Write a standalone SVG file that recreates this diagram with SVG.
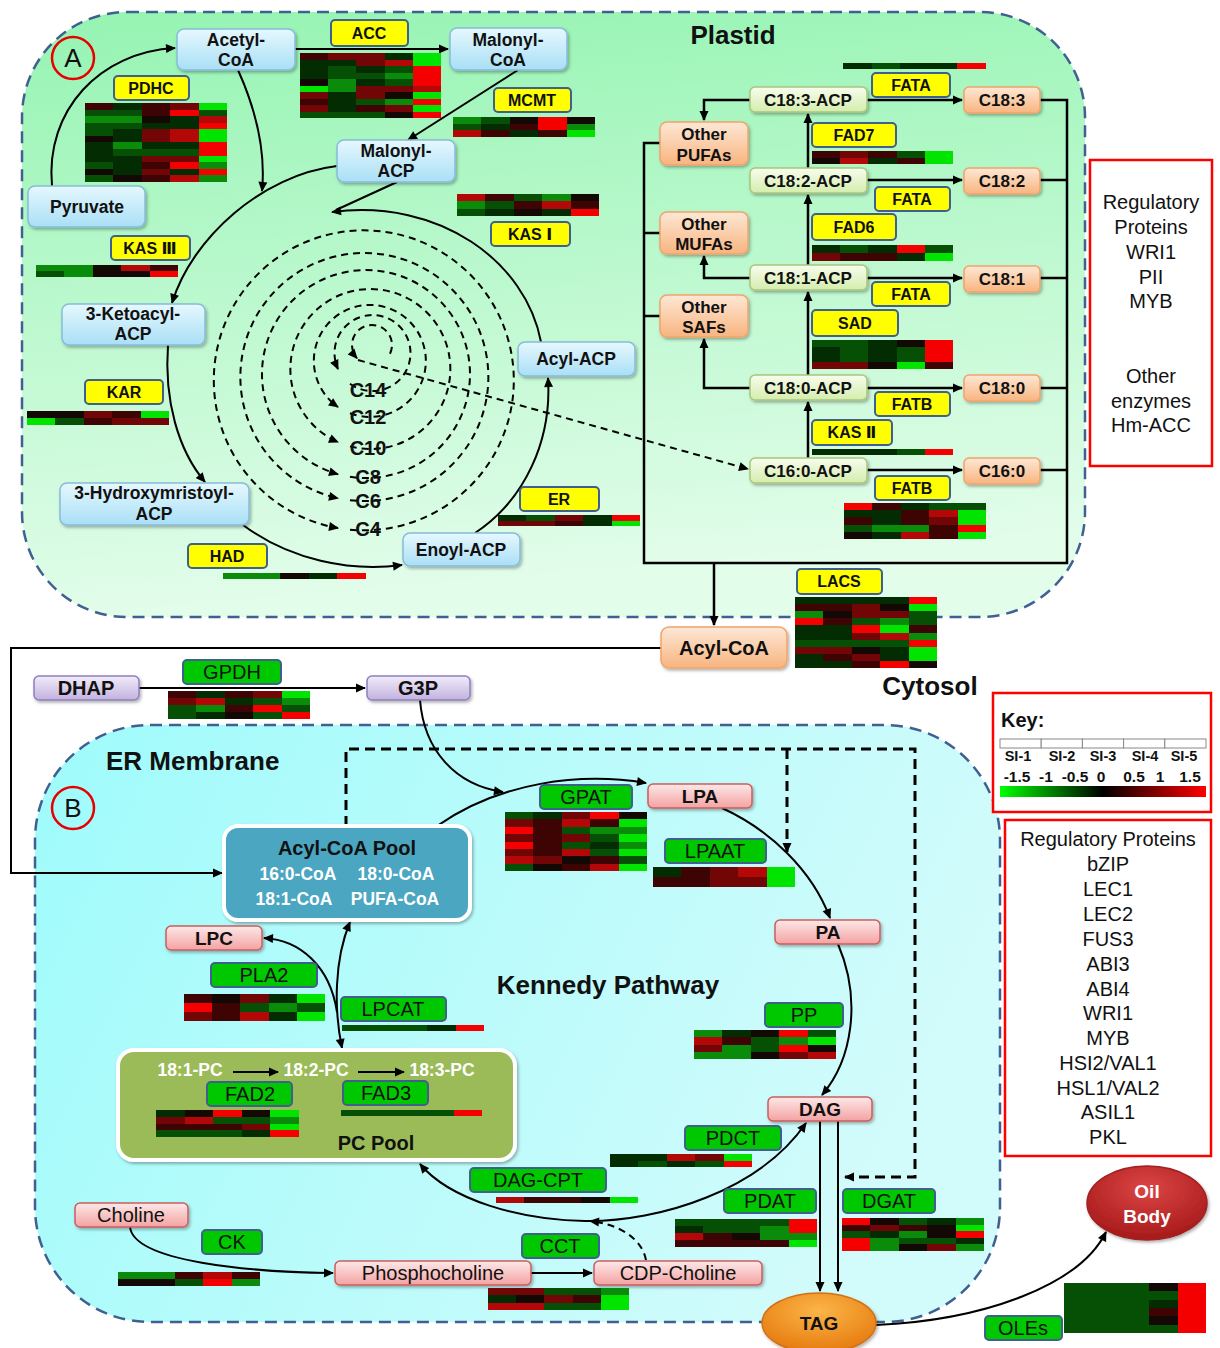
<svg xmlns="http://www.w3.org/2000/svg" width="1220" height="1348" viewBox="0 0 1220 1348">
<defs>
<linearGradient id="gpl" x1="0" y1="0" x2="0.15" y2="1"><stop offset="0" stop-color="#95f4b2"/><stop offset="1" stop-color="#e3fdeb"/></linearGradient>
<linearGradient id="ger" x1="0" y1="0" x2="1" y2="0.3"><stop offset="0" stop-color="#9ffbfb"/><stop offset="1" stop-color="#d2fbfb"/></linearGradient>
<linearGradient id="gb" x1="0" y1="0" x2="0" y2="1"><stop offset="0" stop-color="#e6f8fe"/><stop offset="1" stop-color="#a9dff6"/></linearGradient>
<linearGradient id="ga" x1="0" y1="0" x2="0" y2="1"><stop offset="0" stop-color="#f8fdee"/><stop offset="1" stop-color="#d3edac"/></linearGradient>
<linearGradient id="go" x1="0" y1="0" x2="0" y2="1"><stop offset="0" stop-color="#fde8d6"/><stop offset="1" stop-color="#f8b47f"/></linearGradient>
<linearGradient id="gp" x1="0" y1="0" x2="0" y2="1"><stop offset="0" stop-color="#f1ecf9"/><stop offset="1" stop-color="#c3b2df"/></linearGradient>
<linearGradient id="gk" x1="0" y1="0" x2="0" y2="1"><stop offset="0" stop-color="#fde8e8"/><stop offset="1" stop-color="#f4a2a2"/></linearGradient>
<radialGradient id="gt" cx="0.5" cy="0.3" r="0.7"><stop offset="0" stop-color="#fcb548"/><stop offset="1" stop-color="#e57a0e"/></radialGradient>
<radialGradient id="gob" cx="0.5" cy="0.3" r="0.7"><stop offset="0" stop-color="#dc4444"/><stop offset="1" stop-color="#a61a1a"/></radialGradient>
<linearGradient id="gkey" x1="0" y1="0" x2="1" y2="0"><stop offset="0" stop-color="#00ff00"/><stop offset="0.5" stop-color="#000000"/><stop offset="1" stop-color="#ff0000"/></linearGradient>
<filter id="sh" x="-10%" y="-20%" width="125%" height="150%"><feDropShadow dx="1.5" dy="2" stdDeviation="1.5" flood-color="#000" flood-opacity="0.3"/></filter>
<marker id="ah" viewBox="0 0 10 10" refX="9" refY="5" markerWidth="11" markerHeight="10" markerUnits="userSpaceOnUse" orient="auto-start-reverse"><path d="M0 0.5L10 5L0 9.5z" fill="#000"/></marker>
</defs>
<style>
text{font-family:"Liberation Sans",Arial,"DejaVu Sans",sans-serif;text-anchor:middle;fill:#111}
.b{font-weight:bold}
.nb{fill:url(#gb);stroke:#86bcd9;stroke-width:1.5;filter:url(#sh)}
.na{fill:url(#ga);stroke:#a9c57e;stroke-width:1.5;filter:url(#sh)}
.no{fill:url(#go);stroke:#f1a46a;stroke-width:1.5;filter:url(#sh)}
.np{fill:url(#gp);stroke:#8f7fc0;stroke-width:1.5;filter:url(#sh)}
.nk{fill:url(#gk);stroke:#cc5d5d;stroke-width:1.5;filter:url(#sh)}
.yl{fill:#ffff00;stroke:#3f5f8c;stroke-width:2}
.gl{fill:#00c800;stroke:#3f5f8c;stroke-width:2}
.tn{font-size:17.5px;font-weight:bold}
.ty{font-size:16px;font-weight:bold}
.ta{font-size:17px;font-weight:bold}
.tg{font-size:20px}
.tk{font-size:19px;font-weight:bold}
.ln path{fill:none;stroke:#000;stroke-width:2}
.ln .bx{stroke-width:2.5}
.ln .dl{stroke-dasharray:7 5}
.ln .dl2{stroke-width:3;stroke-dasharray:10 6}
.hm path{stroke:none}
.c1{fill:#00e400}.c2{fill:#0a8c0a}.c3{fill:#055005}.c4{fill:#032c03}.c5{fill:#140804}.c6{fill:#3e0303}.c7{fill:#720505}.c8{fill:#b40707}.c9{fill:#f40000}
.sp{font-size:20px;font-weight:bold}
.big{font-size:26px;font-weight:bold}
.rg{font-size:20px}
</style>
<rect width="1220" height="1348" fill="#fff"/>
<g id="plastid-region"><rect x="22" y="12" width="1063" height="605" rx="105" fill="url(#gpl)" stroke="#3f6090" stroke-width="2.5" stroke-dasharray="12 7"/></g>
<g id="er-region"><rect x="35" y="725" width="965" height="597" rx="115" fill="url(#ger)" stroke="#3f6090" stroke-width="2.5" stroke-dasharray="12 7"/></g>

<g id="connectors" class="ln">
<path d="M52 186C45 110 100 52 175 48" marker-end="url(#ah)"/>
<path d="M295 49H448" marker-end="url(#ah)"/>
<path d="M238 70C256 110 266 150 262 191" marker-end="url(#ah)"/>
<path d="M518 70L408 140" marker-end="url(#ah)"/>
<path d="M337 166C262 175 192 238 172 303" marker-end="url(#ah)"/>
<path d="M397 182L336 210"/>
<path d="M541 342C526 262 440 198 332 212" marker-end="url(#ah)"/>
<path d="M168 345C164 400 178 450 205 482" marker-end="url(#ah)"/>
<path d="M243 525C290 560 350 572 402 565" marker-end="url(#ah)"/>
<path d="M475 533C525 500 552 440 548 378" marker-end="url(#ah)"/>
<path class="dl" d="M350 529.7A150 150 0 1 0 338 528.1" marker-end="url(#ah)"/>
<path class="dl" d="M350 500.2A124 124 0 1 0 338 498.2" marker-end="url(#ah)"/>
<path class="dl" d="M350 476.8A104 104 0 1 0 338 474.2" marker-end="url(#ah)"/>
<path class="dl" d="M350 446.4A80 80 0 1 0 338 442.2" marker-end="url(#ah)"/>
<path class="dl" d="M350 413.3A56 56 0 1 0 338 407" marker-end="url(#ah)"/>
<path class="dl" d="M350 383.7A38 38 0 1 0 338 369" marker-end="url(#ah)"/>
<path class="dl" d="M390 353.7A20 20 0 1 0 357 358.2" marker-end="url(#ah)"/>
<path class="dl" d="M358 360L748 469" marker-end="url(#ah)"/>
<path class="bx" d="M750 100H704V120" marker-end="url(#ah)"/>
<path class="bx" d="M867 100H962" marker-end="url(#ah)"/>
<path class="bx" d="M867 180H962" marker-end="url(#ah)"/>
<path class="bx" d="M867 278H962" marker-end="url(#ah)"/>
<path class="bx" d="M867 388H962" marker-end="url(#ah)"/>
<path class="bx" d="M867 470H962" marker-end="url(#ah)"/>
<path class="bx" d="M750 278H704V256" marker-end="url(#ah)"/>
<path class="bx" d="M750 388H704V339" marker-end="url(#ah)"/>
<path class="bx" d="M808 458V402" marker-end="url(#ah)"/>
<path class="bx" d="M808 375V292" marker-end="url(#ah)"/>
<path class="bx" d="M808 265V195" marker-end="url(#ah)"/>
<path class="bx" d="M808 168V114" marker-end="url(#ah)"/>
<path class="bx" d="M1040 100H1067V563H644V143H660"/>
<path class="bx" d="M1040 180H1067M1040 278H1067M1040 388H1067M1040 470H1067M644 233H660M644 316H660"/>
<path class="bx" d="M714 563V625" marker-end="url(#ah)"/>
<path d="M661 648H11V873H222" marker-end="url(#ah)"/>
<path d="M139 688H365" marker-end="url(#ah)"/>
<path d="M420 700C424 750 455 785 503 792" marker-end="url(#ah)"/>
<path d="M437 826C500 782 580 772 646 783" marker-end="url(#ah)"/>
<path d="M722 808C770 830 812 870 830 918" marker-end="url(#ah)"/>
<path d="M838 944C862 1000 852 1060 822 1095" marker-end="url(#ah)"/>
<path d="M820 1121V1291" marker-end="url(#ah)"/>
<path d="M838 1121V1291" marker-end="url(#ah)"/>
<path class="dl2" d="M346 826V749H915V1177H845" marker-end="url(#ah)"/>
<path class="dl2" d="M787 749V852" marker-end="url(#ah)"/>
<path d="M806 1123C760 1190 660 1222 585 1221C520 1220 450 1200 420 1164" marker-start="url(#ah)" marker-end="url(#ah)"/>
<path class="dl" d="M646 1260C642 1238 618 1224 590 1221" marker-end="url(#ah)"/>
<path d="M130 1227C134 1262 250 1272 333 1273" marker-end="url(#ah)"/>
<path d="M531 1273H592" marker-end="url(#ah)"/>
<path d="M876 1325C985 1320 1080 1285 1106 1232" marker-end="url(#ah)"/>
<path d="M342 1048C334 1010 334 960 350 922" marker-start="url(#ah)" marker-end="url(#ah)"/>
<path d="M337 1012C330 966 300 940 264 938" marker-end="url(#ah)"/>
</g>

<g id="plastid-nodes">
<g id="acetyl-coa"><rect class="nb" x="177" y="29" width="118" height="41" rx="7"/><text class="tn" x="236" y="46">Acetyl-</text><text class="tn" x="236" y="66">CoA</text></g>
<g id="malonyl-coa"><rect class="nb" x="450" y="28" width="117" height="42" rx="7"/><text class="tn" x="508" y="46">Malonyl-</text><text class="tn" x="508" y="66">CoA</text></g>
<g id="pyruvate"><rect class="nb" x="28" y="186" width="117" height="41" rx="7"/><text class="tn" x="87" y="213">Pyruvate</text></g>
<g id="malonyl-acp"><rect class="nb" x="337" y="140" width="118" height="42" rx="7"/><text class="tn" x="396" y="157">Malonyl-</text><text class="tn" x="396" y="177">ACP</text></g>
<g id="ketoacyl-acp"><rect class="nb" x="62" y="304" width="143" height="41" rx="7"/><text class="tn" x="133" y="320">3-Ketoacyl-</text><text class="tn" x="133" y="340">ACP</text></g>
<g id="hydroxy-acp"><rect class="nb" x="60" y="483" width="189" height="42" rx="7"/><text class="tn" x="154" y="499">3-Hydroxymristoyl-</text><text class="tn" x="154" y="520">ACP</text></g>
<g id="acyl-acp"><rect class="nb" x="518" y="342" width="117" height="34" rx="7"/><text class="tn" x="576" y="365">Acyl-ACP</text></g>
<g id="enoyl-acp"><rect class="nb" x="403" y="533" width="117" height="33" rx="7"/><text class="tn" x="461" y="556">Enoyl-ACP</text></g>
<g id="acc"><rect class="yl" x="331" y="20" width="77" height="26" rx="4"/><text class="ty" x="369" y="39">ACC</text></g>
<g id="pdhc"><rect class="yl" x="114" y="76" width="75" height="24" rx="4"/><text class="ty" x="151" y="94">PDHC</text></g>
<g id="mcmt"><rect class="yl" x="494" y="88" width="77" height="24" rx="4"/><text class="ty" x="532" y="106">MCMT</text></g>
<g id="kas3"><rect class="yl" x="111" y="236" width="79" height="24" rx="4"/><text class="ty" x="150" y="254">KAS Ⅲ</text></g>
<g id="kas1"><rect class="yl" x="491" y="222" width="79" height="24" rx="4"/><text class="ty" x="530" y="240">KAS Ⅰ</text></g>
<g id="kar"><rect class="yl" x="85" y="380" width="78" height="24" rx="4"/><text class="ty" x="124" y="398">KAR</text></g>
<g id="had"><rect class="yl" x="188" y="544" width="79" height="24" rx="4"/><text class="ty" x="227" y="562">HAD</text></g>
<g id="er"><rect class="yl" x="520" y="487" width="79" height="24" rx="4"/><text class="ty" x="559" y="505">ER</text></g>
<g id="fata1"><rect class="yl" x="872" y="73" width="78" height="24" rx="4"/><text class="ty" x="911" y="91">FATA</text></g>
<g id="fad7"><rect class="yl" x="812" y="123" width="84" height="24" rx="4"/><text class="ty" x="854" y="141">FAD7</text></g>
<g id="fata2"><rect class="yl" x="875" y="187" width="75" height="24" rx="4"/><text class="ty" x="912" y="205">FATA</text></g>
<g id="fad6"><rect class="yl" x="812" y="214" width="84" height="26" rx="4"/><text class="ty" x="854" y="233">FAD6</text></g>
<g id="fata3"><rect class="yl" x="872" y="282" width="78" height="24" rx="4"/><text class="ty" x="911" y="300">FATA</text></g>
<g id="sad"><rect class="yl" x="812" y="310" width="86" height="26" rx="4"/><text class="ty" x="855" y="329">SAD</text></g>
<g id="fatb1"><rect class="yl" x="875" y="392" width="75" height="24" rx="4"/><text class="ty" x="912" y="410">FATB</text></g>
<g id="kas2"><rect class="yl" x="812" y="420" width="80" height="25" rx="4"/><text class="ty" x="852" y="438">KAS Ⅱ</text></g>
<g id="fatb2"><rect class="yl" x="875" y="476" width="75" height="24" rx="4"/><text class="ty" x="912" y="494">FATB</text></g>
<g id="lacs"><rect class="yl" x="797" y="569" width="85" height="25" rx="4"/><text class="ty" x="839" y="587">LACS</text></g>
<g id="c183-acp"><rect class="na" x="750" y="87" width="117" height="25" rx="5"/><text class="ta" x="808" y="106">C18:3-ACP</text></g>
<g id="c182-acp"><rect class="na" x="750" y="168" width="117" height="25" rx="5"/><text class="ta" x="808" y="187">C18:2-ACP</text></g>
<g id="c181-acp"><rect class="na" x="750" y="265" width="117" height="25" rx="5"/><text class="ta" x="808" y="284">C18:1-ACP</text></g>
<g id="c180-acp"><rect class="na" x="750" y="375" width="117" height="25" rx="5"/><text class="ta" x="808" y="394">C18:0-ACP</text></g>
<g id="c160-acp"><rect class="na" x="750" y="458" width="117" height="25" rx="5"/><text class="ta" x="808" y="477">C16:0-ACP</text></g>
<g id="c183"><rect class="no" x="964" y="87" width="76" height="26" rx="5"/><text class="ta" x="1002" y="106">C18:3</text></g>
<g id="c182"><rect class="no" x="964" y="168" width="76" height="26" rx="5"/><text class="ta" x="1002" y="187">C18:2</text></g>
<g id="c181"><rect class="no" x="964" y="266" width="76" height="26" rx="5"/><text class="ta" x="1002" y="285">C18:1</text></g>
<g id="c180"><rect class="no" x="964" y="375" width="76" height="26" rx="5"/><text class="ta" x="1002" y="394">C18:0</text></g>
<g id="c160"><rect class="no" x="964" y="458" width="76" height="26" rx="5"/><text class="ta" x="1002" y="477">C16:0</text></g>
<g id="other-pufas"><rect class="no" x="660" y="122" width="88" height="43" rx="7"/><text class="ta" x="704" y="140">Other</text><text class="ta" x="704" y="161">PUFAs</text></g>
<g id="other-mufas"><rect class="no" x="660" y="212" width="88" height="42" rx="7"/><text class="ta" x="704" y="230">Other</text><text class="ta" x="704" y="250">MUFAs</text></g>
<g id="other-safs"><rect class="no" x="660" y="295" width="88" height="42" rx="7"/><text class="ta" x="704" y="313">Other</text><text class="ta" x="704" y="333">SAFs</text></g>
<g id="spiral-labels">
<text class="sp" x="368" y="397">C14</text><text class="sp" x="368" y="424">C12</text><text class="sp" x="368" y="455">C10</text><text class="sp" x="368" y="484">C8</text><text class="sp" x="368" y="508">C6</text><text class="sp" x="368" y="536">C4</text>
</g>
</g>

<g id="cytosol-nodes">
<g id="acyl-coa"><rect class="no" x="661" y="627" width="126" height="41" rx="8"/><text class="b" style="font-size:20px" x="724" y="655">Acyl-CoA</text></g>
<g id="dhap"><rect class="np" x="34" y="676" width="105" height="24" rx="5"/><text class="b" style="font-size:20px" x="86" y="695">DHAP</text></g>
<g id="g3p"><rect class="np" x="367" y="676" width="103" height="24" rx="5"/><text class="b" style="font-size:20px" x="418" y="695">G3P</text></g>
<g id="gpdh"><rect class="gl" x="183" y="660" width="98" height="24" rx="4"/><text class="tg" x="232" y="679">GPDH</text></g>
</g>

<g id="er-nodes">
<g id="acyl-coa-pool"><rect x="224" y="826" width="246" height="94" rx="14" fill="#4ba6c1" stroke="#fff" stroke-width="4" filter="url(#sh)"/><text class="b" style="font-size:20px" x="347" y="855">Acyl-CoA Pool</text><text class="b" style="font-size:17.5px;fill:#fff" x="298" y="880">16:0-CoA</text><text class="b" style="font-size:17.5px;fill:#fff" x="396" y="880">18:0-CoA</text><text class="b" style="font-size:17.5px;fill:#fff" x="294" y="905">18:1-CoA</text><text class="b" style="font-size:17.5px;fill:#fff" x="395" y="905">PUFA-CoA</text></g>
<g id="pc-pool"><rect x="118" y="1050" width="397" height="110" rx="16" fill="#9bbb59" stroke="#fff" stroke-width="4" filter="url(#sh)"/><text class="b" style="font-size:17.5px;fill:#fff" x="190" y="1076">18:1-PC</text><text class="b" style="font-size:17.5px;fill:#fff" x="316" y="1076">18:2-PC</text><text class="b" style="font-size:17.5px;fill:#fff" x="442" y="1076">18:3-PC</text><g class="ln"><path d="M233 1072H278" marker-end="url(#ah)"/><path d="M358 1072H404" marker-end="url(#ah)"/></g><text class="b" style="font-size:20px" x="376" y="1150">PC Pool</text></g>
<g id="fad2"><rect class="gl" x="207" y="1082" width="85" height="24" rx="4"/><text class="tg" x="250" y="1101">FAD2</text></g>
<g id="fad3"><rect class="gl" x="343" y="1081" width="85" height="24" rx="4"/><text class="tg" x="386" y="1100">FAD3</text></g>
<g id="lpa"><rect class="nk" x="648" y="784" width="104" height="24" rx="5"/><text class="tk" x="700" y="803">LPA</text></g>
<g id="pa"><rect class="nk" x="775" y="920" width="105" height="24" rx="5"/><text class="tk" x="828" y="939">PA</text></g>
<g id="dag"><rect class="nk" x="768" y="1097" width="104" height="24" rx="5"/><text class="tk" x="820" y="1116">DAG</text></g>
<g id="lpc"><rect class="nk" x="166" y="926" width="96" height="24" rx="5"/><text class="tk" x="214" y="945">LPC</text></g>
<g id="choline"><rect class="nk" x="75" y="1203" width="113" height="24" rx="5"/><text class="tg" x="131" y="1222">Choline</text></g>
<g id="phosphocholine"><rect class="nk" x="335" y="1261" width="196" height="24" rx="5"/><text class="tg" x="433" y="1280">Phosphocholine</text></g>
<g id="cdp-choline"><rect class="nk" x="594" y="1261" width="168" height="24" rx="5"/><text class="tg" x="678" y="1280">CDP-Choline</text></g>
<g id="gpat"><rect class="gl" x="540" y="785" width="92" height="24" rx="4"/><text class="tg" x="586" y="804">GPAT</text></g>
<g id="lpaat"><rect class="gl" x="665" y="839" width="101" height="24" rx="4"/><text class="tg" x="715" y="858">LPAAT</text></g>
<g id="pla2"><rect class="gl" x="211" y="963" width="106" height="24" rx="4"/><text class="tg" x="264" y="982">PLA2</text></g>
<g id="lpcat"><rect class="gl" x="341" y="997" width="105" height="24" rx="4"/><text class="tg" x="393" y="1016">LPCAT</text></g>
<g id="pp"><rect class="gl" x="765" y="1003" width="78" height="24" rx="4"/><text class="tg" x="804" y="1022">PP</text></g>
<g id="pdct"><rect class="gl" x="685" y="1126" width="96" height="24" rx="4"/><text class="tg" x="733" y="1145">PDCT</text></g>
<g id="dag-cpt"><rect class="gl" x="470" y="1168" width="136" height="24" rx="4"/><text class="tg" x="538" y="1187">DAG-CPT</text></g>
<g id="pdat"><rect class="gl" x="724" y="1189" width="92" height="24" rx="4"/><text class="tg" x="770" y="1208">PDAT</text></g>
<g id="dgat"><rect class="gl" x="843" y="1189" width="92" height="24" rx="4"/><text class="tg" x="889" y="1208">DGAT</text></g>
<g id="ck"><rect class="gl" x="202" y="1230" width="60" height="24" rx="4"/><text class="tg" x="232" y="1249">CK</text></g>
<g id="cct"><rect class="gl" x="522" y="1234" width="77" height="24" rx="4"/><text class="tg" x="560" y="1253">CCT</text></g>
<g id="oles"><rect class="gl" x="985" y="1316" width="77" height="24" rx="4"/><text class="tg" x="1023" y="1335">OLEs</text></g>
<g id="tag"><ellipse cx="819" cy="1323" rx="57" ry="30" fill="url(#gt)" stroke="#d27015" stroke-width="1.5" filter="url(#sh)"/><text class="tk" x="819" y="1330">TAG</text></g>
<g id="oil-body"><ellipse cx="1147" cy="1203" rx="60" ry="37" fill="url(#gob)" stroke="#a02020" stroke-width="1.5" filter="url(#sh)"/><text class="tk" style="fill:#fff" x="1147" y="1198">Oil</text><text class="tk" style="fill:#fff" x="1147" y="1223">Body</text></g>
</g>

<g id="heatmaps" class="hm" shape-rendering="crispEdges">
<g transform="translate(300,53) scale(28.2,6.5)">
<path class="c1" d="M4 0h1v2h-1zM0 5h1v1h-1zM4 6h1v1h-1zM4 8h1v1h-1z"/>
<path class="c2" d="M3 3h1v1h-1zM1 4h1v2h-1zM3 7h1v1h-1z"/>
<path class="c3" d="M1 2h1v2h-1zM3 2h1v1h-1zM2 3h1v1h-1zM3 4h1v1h-1zM2 7h1v1h-1zM0 9h3v1h-3z"/>
<path class="c4" d="M3 0h1v1h-1zM0 1h2v1h-2zM0 2h1v2h-1zM2 2h1v1h-1zM2 4h1v1h-1zM1 6h1v3h-1z"/>
<path class="c5" d="M0 4h1v1h-1zM3 6h1v1h-1zM3 9h1v1h-1z"/>
<path class="c6" d="M0 0h1v1h-1zM0 7h1v1h-1zM2 8h1v1h-1z"/>
<path class="c7" d="M1 0h2v1h-2zM2 1h1v1h-1zM2 5h2v1h-2zM0 6h1v1h-1zM2 6h1v1h-1zM0 8h1v1h-1zM3 8h1v1h-1z"/>
<path class="c8" d="M3 1h1v1h-1zM4 5h1v1h-1z"/>
<path class="c9" d="M4 2h1v3h-1zM4 7h1v1h-1zM4 9h1v1h-1z"/>
</g>
<g transform="translate(85,103) scale(28.4,6.583)">
<path class="c1" d="M4 0h1v1h-1zM4 4h1v2h-1zM4 8h1v1h-1z"/>
<path class="c2" d="M0 2h2v1h-2zM1 6h1v1h-1zM4 9h1v1h-1zM4 11h1v1h-1z"/>
<path class="c3" d="M0 1h2v1h-2zM4 1h1v1h-1zM0 3h2v1h-2zM0 4h1v1h-1zM1 7h3v1h-3zM0 9h1v1h-1zM0 11h1v1h-1z"/>
<path class="c4" d="M1 0h1v1h-1zM3 2h1v1h-1zM2 3h2v1h-2zM1 4h1v2h-1zM0 6h1v1h-1zM2 6h2v1h-2zM0 7h1v1h-1zM0 8h2v1h-2zM1 9h1v2h-1zM3 10h1v1h-1z"/>
<path class="c5" d="M2 2h1v1h-1zM0 5h1v1h-1zM0 10h1v1h-1zM1 11h1v1h-1z"/>
<path class="c6" d="M0 0h1v1h-1zM2 0h1v2h-1zM2 9h1v1h-1zM2 11h1v1h-1z"/>
<path class="c7" d="M3 0h1v1h-1zM2 4h1v2h-1zM2 8h2v1h-2zM2 10h1v1h-1z"/>
<path class="c8" d="M4 2h1v1h-1zM3 4h1v2h-1zM3 11h1v1h-1z"/>
<path class="c9" d="M3 1h1v1h-1zM4 3h1v1h-1zM4 6h1v2h-1zM3 9h1v1h-1zM4 10h1v1h-1z"/>
</g>
<g transform="translate(453,117) scale(28.4,6.667)">
<path class="c1" d="M4 2h1v1h-1z"/><path class="c2" d="M0 0h1v1h-1zM4 1h1v1h-1z"/><path class="c3" d="M1 0h1v1h-1zM0 1h1v1h-1z"/><path class="c4" d="M1 1h1v1h-1zM2 2h1v1h-1z"/><path class="c5" d="M2 0h1v1h-1zM4 0h1v1h-1z"/><path class="c6" d="M2 1h1v1h-1zM1 2h1v1h-1zM3 2h1v1h-1z"/><path class="c8" d="M0 2h1v1h-1z"/><path class="c9" d="M3 0h1v2h-1z"/>
</g>
<g transform="translate(457,194) scale(28.4,7.333)">
<path class="c2" d="M3 0h1v1h-1zM0 1h1v1h-1z"/><path class="c3" d="M2 0h1v1h-1zM1 1h1v1h-1zM0 2h1v1h-1z"/><path class="c4" d="M1 2h1v1h-1zM3 2h1v1h-1z"/><path class="c5" d="M4 0h1v1h-1zM2 2h1v1h-1z"/><path class="c6" d="M1 0h1v1h-1zM2 1h1v1h-1zM4 1h1v1h-1z"/><path class="c8" d="M0 0h1v1h-1zM3 1h1v1h-1z"/><path class="c9" d="M4 2h1v1h-1z"/>
</g>
<g transform="translate(36,265) scale(28.4,6)">
<path class="c2" d="M0 0h2v1h-2zM1 1h1v1h-1z"/><path class="c3" d="M0 1h1v1h-1z"/><path class="c5" d="M2 0h1v1h-1zM2 1h2v1h-2z"/><path class="c6" d="M4 0h1v1h-1z"/><path class="c8" d="M3 0h1v1h-1z"/><path class="c9" d="M4 1h1v1h-1z"/>
</g>
<g transform="translate(27,411) scale(28.4,7)">
<path class="c1" d="M4 0h1v1h-1zM0 1h1v1h-1z"/><path class="c3" d="M1 1h1v1h-1z"/><path class="c5" d="M0 0h2v1h-2z"/><path class="c6" d="M3 0h1v1h-1zM2 1h1v1h-1z"/><path class="c7" d="M2 0h1v1h-1zM3 1h2v1h-2z"/>
</g>
<g transform="translate(223,573) scale(28.6,6)">
<path class="c2" d="M0 0h2v1h-2z"/><path class="c5" d="M2 0h1v1h-1z"/><path class="c4" d="M3 0h1v1h-1z"/><path class="c9" d="M4 0h1v1h-1z"/>
</g>
<g transform="translate(498,515) scale(28.4,5.5)">
<path class="c1" d="M4 1h1v1h-1z"/><path class="c3" d="M1 0h1v1h-1z"/><path class="c4" d="M0 0h1v1h-1zM3 0h1v2h-1z"/><path class="c6" d="M2 1h1v1h-1z"/><path class="c7" d="M2 0h1v1h-1zM0 1h2v1h-2z"/><path class="c9" d="M4 0h1v1h-1z"/>
</g>
<g transform="translate(843,63) scale(28.6,6)">
<path class="c4" d="M0 0h1v1h-1zM2 0h2v1h-2z"/><path class="c3" d="M1 0h1v1h-1z"/><path class="c9" d="M4 0h1v1h-1z"/>
</g>
<g transform="translate(812,151) scale(28.2,6.5)">
<path class="c1" d="M4 0h1v2h-1z"/><path class="c3" d="M3 0h1v1h-1z"/><path class="c4" d="M2 1h1v1h-1z"/><path class="c5" d="M0 1h1v1h-1z"/><path class="c6" d="M0 0h1v1h-1zM2 0h1v1h-1zM3 1h1v1h-1z"/><path class="c7" d="M1 0h1v1h-1z"/><path class="c8" d="M1 1h1v1h-1z"/>
</g>
<g transform="translate(812,245) scale(28.2,8)">
<path class="c1" d="M4 1h1v1h-1z"/><path class="c3" d="M1 0h1v1h-1zM4 0h1v1h-1z"/><path class="c4" d="M0 0h1v1h-1zM2 0h1v1h-1zM3 1h1v1h-1z"/><path class="c6" d="M1 1h2v1h-2z"/><path class="c7" d="M0 1h1v1h-1z"/><path class="c9" d="M3 0h1v1h-1z"/>
</g>
<g transform="translate(812,340) scale(28.2,7.25)">
<path class="c1" d="M3 3h1v1h-1z"/><path class="c3" d="M0 0h2v1h-2zM1 1h1v2h-1zM3 1h1v2h-1z"/><path class="c4" d="M2 0h1v3h-1zM0 1h1v2h-1z"/><path class="c5" d="M3 0h1v1h-1zM2 3h1v1h-1z"/><path class="c6" d="M4 3h1v1h-1z"/><path class="c7" d="M0 3h2v1h-2z"/><path class="c9" d="M4 0h1v3h-1z"/>
</g>
<g transform="translate(812,449) scale(28.2,6)">
<path class="c4" d="M0 0h3v1h-3z"/><path class="c3" d="M3 0h1v1h-1z"/><path class="c9" d="M4 0h1v1h-1z"/>
</g>
<g transform="translate(844,503) scale(28.4,7.2)">
<path class="c1" d="M4 1h1v2h-1zM4 4h1v1h-1z"/><path class="c2" d="M1 3h2v1h-2z"/><path class="c3" d="M3 0h2v1h-2zM0 3h1v1h-1z"/><path class="c4" d="M2 0h1v1h-1zM0 1h2v1h-2zM1 2h1v1h-1zM1 4h1v1h-1z"/><path class="c5" d="M0 4h1v1h-1z"/><path class="c6" d="M1 0h1v1h-1zM2 1h1v1h-1zM0 2h1v1h-1zM2 2h1v1h-1zM3 3h1v2h-1z"/><path class="c7" d="M3 2h1v1h-1z"/><path class="c8" d="M3 1h1v1h-1zM2 4h1v1h-1z"/><path class="c9" d="M0 0h1v1h-1zM4 3h1v1h-1z"/>
</g>
<g transform="translate(795,597) scale(28.4,7.1)">
<path class="c1" d="M4 1h1v1h-1zM3 4h1v1h-1zM4 7h1v2h-1z"/>
<path class="c2" d="M0 2h1v1h-1zM3 3h1v1h-1zM4 5h1v1h-1z"/>
<path class="c3" d="M4 2h1v1h-1zM2 3h1v1h-1zM4 3h1v1h-1zM0 6h4v1h-4z"/>
<path class="c4" d="M0 0h4v1h-4zM0 4h2v2h-2zM3 7h1v2h-1zM0 8h1v2h-1zM1 9h1v1h-1z"/>
<path class="c5" d="M3 1h1v1h-1zM1 2h1v1h-1zM2 7h1v1h-1zM4 9h1v1h-1z"/>
<path class="c6" d="M0 1h2v1h-2zM1 3h1v1h-1zM4 4h1v1h-1zM1 8h1v1h-1zM2 9h1v1h-1z"/>
<path class="c7" d="M2 1h1v1h-1zM2 2h2v1h-2zM2 5h1v1h-1zM0 7h2v1h-2zM2 8h1v1h-1z"/>
<path class="c8" d="M3 5h1v1h-1z"/>
<path class="c9" d="M4 0h1v1h-1zM0 3h1v1h-1zM2 4h1v1h-1zM4 6h1v1h-1zM3 9h1v1h-1z"/>
</g>
<g transform="translate(168,691) scale(28.4,7)">
<path class="c1" d="M4 0h1v1h-1z"/><path class="c2" d="M4 1h1v1h-1zM1 2h1v1h-1z"/><path class="c3" d="M3 1h1v1h-1zM0 2h1v2h-1zM4 2h1v1h-1zM3 3h1v1h-1z"/><path class="c4" d="M1 0h1v1h-1zM2 1h1v1h-1zM1 3h1v1h-1z"/><path class="c5" d="M2 3h1v1h-1z"/><path class="c6" d="M0 0h1v1h-1zM2 0h1v1h-1zM2 2h1v1h-1z"/><path class="c7" d="M3 0h1v1h-1zM0 1h1v1h-1z"/><path class="c8" d="M1 1h1v1h-1z"/><path class="c9" d="M3 2h1v1h-1zM4 3h1v1h-1z"/>
</g>
<g transform="translate(505,812) scale(28.4,7.375)">
<path class="c1" d="M4 1h1v1h-1zM4 3h1v1h-1zM4 5h1v1h-1zM4 7h1v1h-1z"/>
<path class="c2" d="M3 2h2v1h-2zM4 4h1v1h-1z"/>
<path class="c3" d="M0 0h1v1h-1zM2 2h1v1h-1zM3 3h1v1h-1zM2 4h1v1h-1zM3 5h1v1h-1zM4 6h1v1h-1zM0 7h1v1h-1z"/>
<path class="c4" d="M1 0h1v1h-1zM3 4h1v1h-1z"/>
<path class="c5" d="M4 0h1v1h-1zM2 6h1v1h-1zM1 7h1v1h-1z"/>
<path class="c6" d="M1 1h1v5h-1zM3 1h1v1h-1zM3 6h1v1h-1zM2 7h1v1h-1z"/>
<path class="c7" d="M2 0h1v1h-1zM0 1h1v1h-1zM0 3h1v1h-1zM2 3h1v1h-1zM0 5h1v1h-1zM1 6h1v1h-1z"/>
<path class="c8" d="M2 1h1v1h-1zM2 5h1v1h-1zM0 6h1v1h-1zM3 7h1v1h-1z"/>
<path class="c9" d="M3 0h1v1h-1zM0 2h1v1h-1zM0 4h1v1h-1z"/>
</g>
<g transform="translate(653,867) scale(28.4,10)">
<path class="c1" d="M4 0h1v2h-1z"/><path class="c4" d="M0 0h1v1h-1z"/><path class="c6" d="M1 0h1v1h-1zM0 1h2v1h-2z"/><path class="c7" d="M2 0h1v1h-1zM2 1h2v1h-2z"/><path class="c8" d="M3 0h1v1h-1z"/>
</g>
<g transform="translate(184,994) scale(28.2,9)">
<path class="c1" d="M4 0h1v1h-1zM4 2h1v1h-1z"/><path class="c2" d="M3 1h1v1h-1z"/><path class="c3" d="M2 1h1v1h-1zM4 1h1v1h-1z"/><path class="c4" d="M3 0h1v1h-1zM3 2h1v1h-1z"/><path class="c5" d="M1 0h1v1h-1z"/><path class="c6" d="M0 0h1v1h-1zM1 1h1v2h-1z"/><path class="c7" d="M2 0h1v1h-1zM0 2h1v1h-1z"/><path class="c8" d="M2 2h1v1h-1z"/><path class="c9" d="M0 1h1v1h-1z"/>
</g>
<g transform="translate(342,1025) scale(28.4,6)">
<path class="c3" d="M0 0h3v1h-3z"/><path class="c4" d="M3 0h1v1h-1z"/><path class="c9" d="M4 0h1v1h-1z"/>
</g>
<g transform="translate(694,1030) scale(28.4,7.25)">
<path class="c1" d="M4 1h1v1h-1z"/><path class="c2" d="M0 0h1v1h-1zM3 1h1v1h-1zM1 2h1v1h-1zM0 3h2v1h-2z"/><path class="c3" d="M4 0h1v1h-1zM2 1h1v2h-1z"/><path class="c4" d="M1 0h1v1h-1z"/><path class="c5" d="M2 0h1v1h-1zM4 2h1v1h-1zM2 3h1v1h-1z"/><path class="c6" d="M1 1h1v1h-1z"/><path class="c7" d="M0 2h1v1h-1zM3 3h1v1h-1z"/><path class="c8" d="M0 1h1v1h-1zM4 3h1v1h-1z"/><path class="c9" d="M3 0h1v1h-1zM3 2h1v1h-1z"/>
</g>
<g transform="translate(156,1110) scale(28.6,6.75)">
<path class="c1" d="M4 0h1v1h-1zM4 2h1v1h-1z"/><path class="c2" d="M4 1h1v1h-1z"/><path class="c3" d="M2 1h2v1h-2zM0 3h3v1h-3z"/><path class="c4" d="M0 0h1v1h-1zM3 3h1v1h-1z"/><path class="c5" d="M1 0h1v1h-1zM3 0h1v1h-1z"/><path class="c6" d="M0 2h3v1h-3z"/><path class="c7" d="M0 1h1v1h-1zM3 2h1v1h-1z"/><path class="c8" d="M1 1h1v1h-1z"/><path class="c9" d="M2 0h1v1h-1zM4 3h1v1h-1z"/>
</g>
<g transform="translate(341,1110) scale(28.2,6)">
<path class="c3" d="M0 0h4v1h-4z"/><path class="c9" d="M4 0h1v1h-1z"/>
</g>
<g transform="translate(610,1154) scale(28.4,6.5)">
<path class="c1" d="M4 0h1v1h-1z"/><path class="c3" d="M1 1h1v1h-1zM3 1h1v1h-1z"/><path class="c4" d="M0 0h2v1h-2zM0 1h1v1h-1zM2 1h1v1h-1z"/><path class="c7" d="M3 0h1v1h-1z"/><path class="c8" d="M2 0h1v1h-1z"/><path class="c9" d="M4 1h1v1h-1z"/>
</g>
<g transform="translate(496,1197) scale(28.4,6)">
<path class="c8" d="M0 0h1v1h-1z"/><path class="c6" d="M1 0h2v1h-2z"/><path class="c5" d="M3 0h1v1h-1z"/><path class="c1" d="M4 0h1v1h-1z"/>
</g>
<g transform="translate(675,1219) scale(28.4,7)">
<path class="c1" d="M4 3h1v1h-1z"/><path class="c2" d="M3 1h1v2h-1zM4 2h1v1h-1z"/><path class="c3" d="M0 0h4v1h-4zM1 1h2v1h-2z"/><path class="c4" d="M0 1h1v1h-1z"/><path class="c5" d="M2 2h1v1h-1z"/><path class="c6" d="M1 2h1v1h-1zM0 3h4v1h-4z"/><path class="c8" d="M0 2h1v1h-1z"/><path class="c9" d="M4 0h1v2h-1z"/>
</g>
<g transform="translate(842,1218) scale(28.4,6.6)">
<path class="c1" d="M4 1h1v1h-1z"/><path class="c2" d="M4 0h1v1h-1zM2 2h1v1h-1zM1 3h1v2h-1zM4 4h1v1h-1z"/><path class="c3" d="M2 0h1v1h-1zM0 2h1v1h-1zM2 3h2v1h-2z"/><path class="c4" d="M3 0h1v1h-1zM1 2h1v1h-1zM4 3h1v1h-1z"/><path class="c5" d="M1 0h1v1h-1zM3 1h1v2h-1zM2 4h1v1h-1z"/><path class="c6" d="M0 1h1v1h-1zM2 1h1v1h-1z"/><path class="c7" d="M1 1h1v1h-1zM3 4h1v1h-1z"/><path class="c9" d="M0 0h1v1h-1zM4 2h1v1h-1zM0 3h1v2h-1z"/>
</g>
<g transform="translate(118,1272) scale(28.4,7)">
<path class="c2" d="M0 0h2v1h-2zM4 1h1v1h-1z"/><path class="c3" d="M2 1h1v1h-1z"/><path class="c5" d="M0 1h2v1h-2z"/><path class="c6" d="M2 0h1v1h-1zM4 0h1v1h-1z"/><path class="c8" d="M3 0h1v1h-1z"/><path class="c9" d="M3 1h1v1h-1z"/>
</g>
<g transform="translate(488,1288) scale(28.2,7.333)">
<path class="c1" d="M4 1h1v2h-1z"/><path class="c2" d="M4 0h1v1h-1z"/><path class="c3" d="M2 0h2v1h-2zM2 2h2v1h-2z"/><path class="c4" d="M0 1h1v1h-1z"/><path class="c5" d="M1 1h1v1h-1z"/><path class="c6" d="M3 1h1v1h-1z"/><path class="c7" d="M0 0h2v1h-2zM2 1h1v1h-1z"/><path class="c8" d="M0 2h2v1h-2z"/>
</g>
<g transform="translate(1064,1283) scale(28.4,8.333)">
<path class="c3" d="M0 0h3v6h-3zM3 1h1v1h-1zM3 5h1v1h-1z"/><path class="c5" d="M3 0h1v1h-1zM3 4h1v1h-1z"/><path class="c4" d="M3 2h1v1h-1z"/><path class="c6" d="M3 3h1v1h-1z"/><path class="c9" d="M4 0h1v6h-1z"/>
</g>
</g>

<g id="region-labels">
<text class="big" x="733" y="44">Plastid</text>
<text class="big" x="930" y="695">Cytosol</text>
<text class="big" x="106" y="770" style="text-anchor:start">ER Membrane</text>
<text class="big" x="608" y="994">Kennedy Pathway</text>
<g id="circle-a"><circle cx="73" cy="58" r="21" fill="none" stroke="#e60000" stroke-width="2.5"/><text x="73" y="67" style="font-size:26px">A</text></g>
<g id="circle-b"><circle cx="73" cy="808" r="21" fill="none" stroke="#e60000" stroke-width="2.5"/><text x="73" y="817" style="font-size:26px">B</text></g>
</g>

<g id="regulatory-box-1"><rect x="1090" y="160" width="122" height="306" fill="#fff" stroke="#f00" stroke-width="2.5"/>
<text class="rg" x="1151" y="209">Regulatory</text><text class="rg" x="1151" y="234">Proteins</text><text class="rg" x="1151" y="259">WRI1</text><text class="rg" x="1151" y="284">PII</text><text class="rg" x="1151" y="308">MYB</text><text class="rg" x="1151" y="383">Other</text><text class="rg" x="1151" y="408">enzymes</text><text class="rg" x="1151" y="432">Hm-ACC</text></g>

<g id="key"><rect x="993" y="693" width="218" height="119" fill="#fff" stroke="#f00" stroke-width="2.5"/>
<text class="b" style="font-size:20px;text-anchor:start" x="1001" y="727">Key:</text>
<g fill="#fff" stroke="#888" stroke-width="1"><rect x="1000" y="739" width="41.2" height="9"/><rect x="1041.2" y="739" width="41.2" height="9"/><rect x="1082.4" y="739" width="41.2" height="9"/><rect x="1123.6" y="739" width="41.2" height="9"/><rect x="1164.8" y="739" width="41.2" height="9"/></g>
<g class="b" style="font-size:14.5px"><text x="1018" y="761">SI-1</text><text x="1062" y="761">SI-2</text><text x="1103" y="761">SI-3</text><text x="1145" y="761">SI-4</text><text x="1184" y="761">SI-5</text></g>
<g class="b" style="font-size:15.5px"><text x="1017" y="782">-1.5</text><text x="1046" y="782">-1</text><text x="1075" y="782">-0.5</text><text x="1101" y="782">0</text><text x="1134" y="782">0.5</text><text x="1160" y="782">1</text><text x="1190" y="782">1.5</text></g>
<rect x="1000" y="786" width="206" height="11" fill="url(#gkey)"/></g>

<g id="regulatory-box-2"><rect x="1005" y="820" width="206" height="336" fill="#fff" stroke="#f00" stroke-width="2.5"/>
<text class="rg" x="1108" y="846">Regulatory Proteins</text><text class="rg" x="1108" y="871">bZIP</text><text class="rg" x="1108" y="896">LEC1</text><text class="rg" x="1108" y="921">LEC2</text><text class="rg" x="1108" y="946">FUS3</text><text class="rg" x="1108" y="971">ABI3</text><text class="rg" x="1108" y="996">ABI4</text><text class="rg" x="1108" y="1020">WRI1</text><text class="rg" x="1108" y="1045">MYB</text><text class="rg" x="1108" y="1070">HSI2/VAL1</text><text class="rg" x="1108" y="1095">HSL1/VAL2</text><text class="rg" x="1108" y="1119">ASIL1</text><text class="rg" x="1108" y="1144">PKL</text></g>
</svg>
